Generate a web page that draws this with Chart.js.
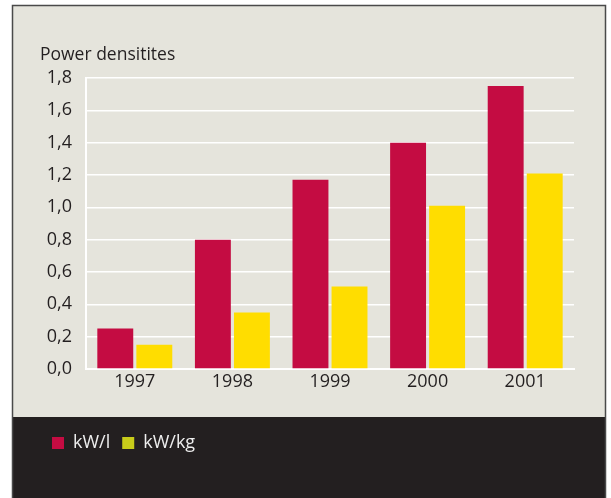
<!DOCTYPE html>
<html lang="en">

<head>
    <meta charset="UTF-8">
    <title>Power densitites</title>
    <style>
        html, body {
            margin: 0;
            padding: 0;
            background: #fff;
        }

        .chart-container {
            position: relative;
            width: 611px;
            height: 498px;
        }
    </style>
</head>

<body>
    <div class="chart-container">
        <canvas id="power-chart"></canvas>
    </div>
    <script src="https://cdn.jsdelivr.net/npm/chart.js"></script>
    <script>
    const years = ['1997', '1998', '1999', '2000', '2001'];
    const kwPerLitre = [0.25, 0.80, 1.17, 1.40, 1.75];
    const kwPerKg = [0.15, 0.35, 0.51, 1.01, 1.21];
    const yTicks = [0, 0.2, 0.4, 0.6, 0.8, 1.0, 1.2, 1.4, 1.6, 1.8];

    const textColor = '#231f20';
    const fontFamily = '"Open Sans", sans-serif';

    // paints the beige panel, its border and the dark legend band
    const framePlugin = {
        id: 'frame',
        beforeDraw(chart) {
            const ctx = chart.ctx;
            ctx.save();
            ctx.fillStyle = '#ffffff';
            ctx.fillRect(0, 0, chart.width, chart.height);
            ctx.fillStyle = '#e5e4dc';
            ctx.fillRect(12, 5, 594, 493);
            ctx.fillStyle = '#231f20';
            ctx.fillRect(12, 417, 594, 81);
            ctx.strokeStyle = '#4a4a4a';
            ctx.lineWidth = 1.5;
            ctx.strokeRect(12.5, 5.5, 593, 500);
            ctx.restore();
        }
    };

    const ctx = document.getElementById('power-chart').getContext('2d');
    new Chart(ctx, {
        type: 'bar',
        data: {
            labels: years,
            datasets: [
                {
                    label: 'kW/l',
                    data: kwPerLitre,
                    backgroundColor: '#c40c42',
                    categoryPercentage: 0.8,
                    barPercentage: 0.92
                },
                {
                    label: 'kW/kg',
                    data: kwPerKg,
                    backgroundColor: '#ffdd00',
                    categoryPercentage: 0.8,
                    barPercentage: 0.92
                }
            ]
        },
        options: {
            responsive: true,
            maintainAspectRatio: false,
            animation: false,
            layout: {
                padding: { top: 40, left: 40, right: 37, bottom: 36 }
            },
            plugins: {
                title: {
                    display: true,
                    text: 'Power densitites',
                    align: 'start',
                    color: textColor,
                    font: { family: fontFamily, size: 17.5, weight: 'normal' },
                    padding: { top: 4.5, bottom: 12.5 }
                },
                legend: {
                    position: 'bottom',
                    align: 'start',
                    labels: {
                        color: '#eeeeee',
                        font: { family: fontFamily, size: 18 },
                        boxWidth: 12,
                        boxHeight: 12,
                        padding: 12,
                        generateLabels(chart) {
                            const items = Chart.defaults.plugins.legend.labels.generateLabels(chart);
                            items[1].fillStyle = '#c8cc1a';
                            items.forEach(item => { item.strokeStyle = 'transparent'; item.lineWidth = 0; });
                            return items;
                        }
                    }
                },
                tooltip: { enabled: false }
            },
            scales: {
                x: {
                    grid: { display: false, drawTicks: false },
                    border: { display: true, color: '#ffffff', width: 2 },
                    ticks: {
                        color: textColor,
                        font: { family: fontFamily, size: 18 },
                        padding: 2
                    },
                    afterFit(scale) {
                        scale.height = 53;
                    }
                },
                y: {
                    min: 0,
                    max: 1.8,
                    afterBuildTicks(scale) {
                        scale.ticks = yTicks.map(v => ({ value: v }));
                    },
                    grid: {
                        color: '#ffffff',
                        lineWidth: 1.5,
                        drawTicks: false
                    },
                    border: { display: true, color: '#ffffff', width: 2 },
                    ticks: {
                        color: textColor,
                        font: { family: fontFamily, size: 18 },
                        padding: 14,
                        callback: value => value.toFixed(1).replace('.', ',')
                    },
                    afterFit(scale) {
                        scale.width = 46;
                    }
                }
            }
        },
        plugins: [framePlugin]
    });
    </script>
</body>

</html>
